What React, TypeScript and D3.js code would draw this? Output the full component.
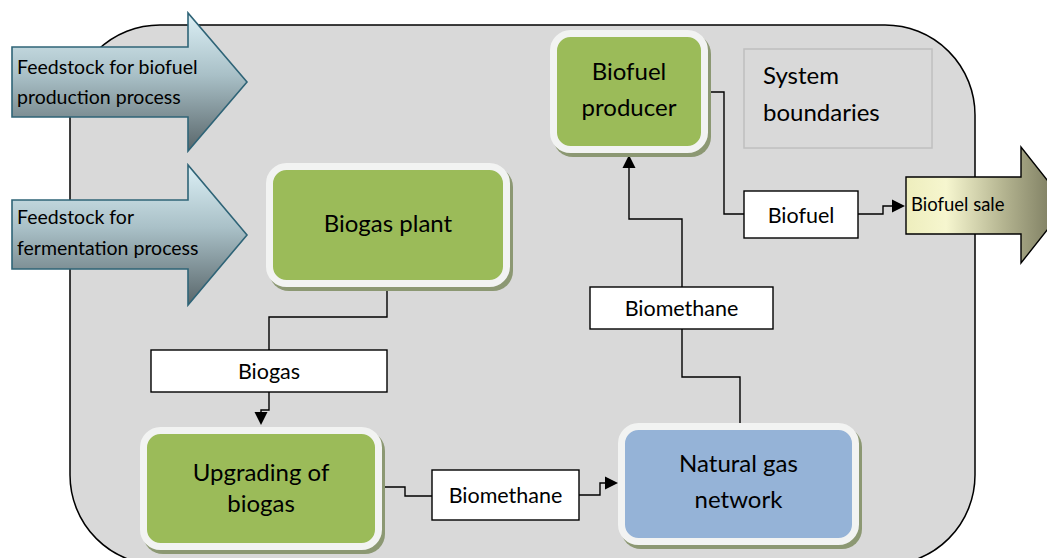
import * as d3 from 'd3';

// Diagram content
const processNames = ['Biofuel\nproducer', 'Biogas plant', 'Upgrading of\nbiogas', 'Natural gas\nnetwork'];
const flowLabels = ['Biogas', 'Biomethane', 'Biomethane', 'Biofuel'];
const inputArrows = ['Feedstock for biofuel\nproduction process', 'Feedstock for\nfermentation process'];
const outputArrow = 'Biofuel sale';
const boundaryNote = 'System\nboundaries';

const W = 1047, H = 558;
const FONT = 'Lato, Calibri, sans-serif';

// layout (outer bounds, x0 x1 y0 y1)
const processBoxes = [
  { x0: 550, x1: 708, y0: 30, y1: 153, fill: '#9bbb59', lines: [80, 116] },
  { x0: 266, x1: 510, y0: 163, y1: 287, fill: '#9bbb59', lines: [232] },
  { x0: 140, x1: 382, y0: 427, y1: 550, fill: '#9bbb59', lines: [481, 512] },
  { x0: 618, x1: 859, y0: 423, y1: 545, fill: '#95b3d7', lines: [472, 508] },
];
const labelBoxes = [
  { x0: 151, x1: 387, y0: 350, y1: 392 },
  { x0: 432, x1: 579, y0: 470, y1: 520 },
  { x0: 590, x1: 773, y0: 287, y1: 329 },
  { x0: 744, x1: 858, y0: 191, y1: 238 },
];
const inputLayout = [
  { x0: 12, x1: 188, y0: 47, y1: 117, hy0: 13, hy1: 151, tip: 247, lines: [74, 104] },
  { x0: 12, x1: 188, y0: 200, y1: 269, hy0: 165, hy1: 305, tip: 247, lines: [224, 255] },
];

type Pt = [number, number];
const connectors: { pts: Pt[]; head?: 'down' | 'up' | 'right' }[] = [
  { pts: [[387, 287], [387, 317], [269, 317], [269, 350]] },
  { pts: [[269, 392], [269, 410], [261, 410], [261, 412]], head: 'down' },
  { pts: [[382, 487], [405, 487], [405, 496], [432, 496]] },
  { pts: [[579, 495], [600, 495], [600, 483], [605, 483]], head: 'right' },
  { pts: [[740, 423], [740, 377], [682, 377], [682, 329]] },
  { pts: [[682, 287], [682, 219], [629, 219], [629, 168]], head: 'up' },
  { pts: [[708, 92], [724, 92], [724, 214], [744, 214]] },
  { pts: [[858, 214], [883, 214], [883, 206], [892, 206]], head: 'right' },
];

const line = d3.line<Pt>().x(d => d[0]).y(d => d[1]);

function head(p: Pt, dir: string) {
  const [x, y] = p;
  const L = 13, w = 6.5;
  let tri: Pt[];
  if (dir === 'down') tri = [[x - w, y], [x + w, y], [x, y + L]];
  else if (dir === 'up') tri = [[x - w, y], [x + w, y], [x, y - L]];
  else tri = [[x, y - w], [x, y + w], [x + L, y]];
  return line(tri) + 'Z';
}

function Lines({ text, x, ys, size, anchor = 'middle' }: { text: string; x: number; ys: number[]; size: number; anchor?: string }) {
  return (
    <>
      {text.split('\n').map((t, i) => (
        <text key={i} x={x} y={ys[i]} fontSize={size} fontFamily={FONT} textAnchor={anchor} fill="#000">{t}</text>
      ))}
    </>
  );
}

export default function App() {
  const sale = { x0: 906, y0: 177, y1: 234, hx: 1021, hy0: 147, hy1: 263, tip: 1067 };
  const saleMid = (sale.hy0 + sale.hy1) / 2;
  return (
    <svg width={W} height={H} style={{ position: 'fixed', left: 0, top: 0, background: '#fff' }}>
      <defs>
        <linearGradient id="feedGrad" x1="0" y1="0" x2="0" y2="1">
          <stop offset="0%" stopColor="#dcf0f6" />
          <stop offset="45%" stopColor="#a9c0c7" />
          <stop offset="100%" stopColor="#59666a" />
        </linearGradient>
        <linearGradient id="saleGrad" x1="0" y1="0" x2="1" y2="0">
          <stop offset="0%" stopColor="#eeeebd" />
          <stop offset="25%" stopColor="#f6f6cf" />
          <stop offset="60%" stopColor="#b5b591" />
          <stop offset="100%" stopColor="#6f6f55" />
        </linearGradient>
      </defs>

      {/* system boundary */}
      <rect x={70} y={25} width={905} height={540} rx={90} ry={90} fill="#d9d9d9" stroke="#000" strokeWidth={1.5} />

      {/* system boundaries note */}
      <rect x={744} y={49} width={188} height={99} fill="none" stroke="#bfbfbf" strokeWidth={1.5} />
      <Lines text={boundaryNote} x={763} ys={[84, 121]} size={24} anchor="start" />

      {/* connectors */}
      {connectors.map((c, i) => (
        <g key={i}>
          <path d={line(c.pts) ?? ''} fill="none" stroke="#000" strokeWidth={1.4} />
          {c.head && <path d={head(c.pts[c.pts.length - 1], c.head)} fill="#000" />}
        </g>
      ))}

      {/* process boxes */}
      {processBoxes.map((b, i) => {
        const ins = 3.5;
        const cx = (b.x0 + b.x1) / 2;
        return (
          <g key={i}>
            <rect x={b.x0 + 3} y={b.y0 + 4} width={b.x1 - b.x0} height={b.y1 - b.y0} rx={20} fill="#8c9873" />
            <rect x={b.x0 + ins} y={b.y0 + ins} width={b.x1 - b.x0 - 2 * ins} height={b.y1 - b.y0 - 2 * ins}
              rx={17} fill={b.fill} stroke="#f2f3f2" strokeWidth={7} />
            <Lines text={processNames[i]} x={cx} ys={b.lines} size={24} />
          </g>
        );
      })}

      {/* flow labels */}
      {labelBoxes.map((b, i) => (
        <g key={i}>
          <rect x={b.x0} y={b.y0} width={b.x1 - b.x0} height={b.y1 - b.y0} fill="#fff" stroke="#000" strokeWidth={1.4} />
          <text x={(b.x0 + b.x1) / 2} y={(b.y0 + b.y1) / 2 + 8} fontSize={21.5} fontFamily={FONT} textAnchor="middle">{flowLabels[i]}</text>
        </g>
      ))}

      {/* input arrows */}
      {inputLayout.map((a, i) => {
        const mid = (a.hy0 + a.hy1) / 2;
        const pts: Pt[] = [[a.x0, a.y0], [a.x1, a.y0], [a.x1, a.hy0], [a.tip, mid], [a.x1, a.hy1], [a.x1, a.y1], [a.x0, a.y1]];
        return (
          <g key={i}>
            <path d={line(pts) + 'Z'} fill="url(#feedGrad)" stroke="#2f6477" strokeWidth={1.6} />
            <Lines text={inputArrows[i]} x={a.x0 + 5} ys={a.lines} size={19.5} anchor="start" />
          </g>
        );
      })}

      {/* output arrow */}
      <path
        d={line([[sale.x0, sale.y0], [sale.hx, sale.y0], [sale.hx, sale.hy0], [sale.tip, saleMid], [sale.hx, sale.hy1], [sale.hx, sale.y1], [sale.x0, sale.y1]]) + 'Z'}
        fill="url(#saleGrad)" stroke="#000" strokeWidth={1.4} />
      <text x={911} y={211} fontSize={18.5} fontFamily={FONT}>{outputArrow}</text>
    </svg>
  );
}
